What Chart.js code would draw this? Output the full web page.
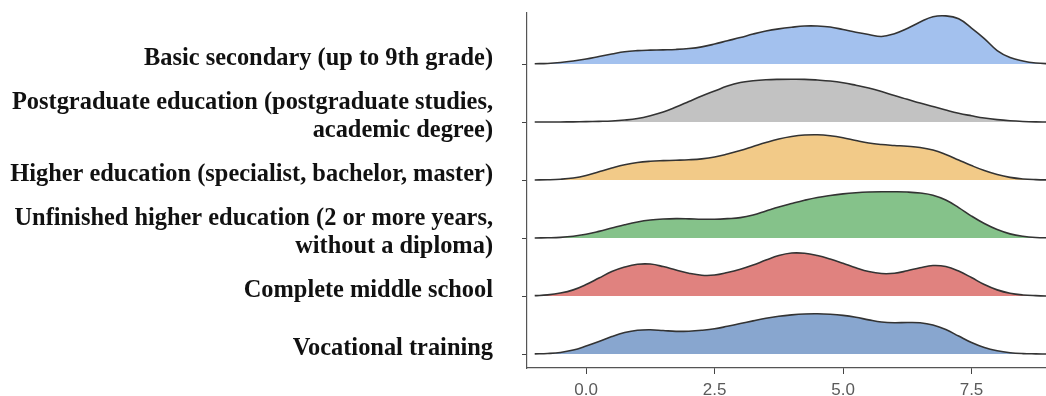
<!DOCTYPE html>
<html>
<head>
<meta charset="utf-8">
<script src="https://cdn.jsdelivr.net/npm/chart.js@4.4.1/dist/chart.umd.min.js"></script>
<style>
  html, body { margin: 0; padding: 0; background: #ffffff; }
  #wrap { width: 1046px; height: 396px; }
</style>
</head>
<body>
<div id="wrap"><canvas id="ridges" width="1046" height="396"></canvas></div>
<script>
// Score grid shared by every density curve
const scoreGrid = [-1, -0.75, -0.5, -0.25, 0, 0.25, 0.5, 0.75, 1, 1.25, 1.5, 1.75, 2, 2.25, 2.5, 2.75,
  3, 3.25, 3.5, 3.75, 4, 4.25, 4.5, 4.75, 5, 5.25, 5.5, 5.75, 6, 6.25, 6.5, 6.75, 7, 7.25, 7.5, 7.75,
  8, 8.25, 8.5, 8.75, 9, 9.25, 9.5];

// Education levels, bottom ridge first ("\n" splits a label over two lines)
const educationLevels = [
  'Vocational training',
  'Complete middle school',
  'Unfinished higher education (2 or more years,\nwithout a diploma)',
  'Higher education (specialist, bachelor, master)',
  'Postgraduate education (postgraduate studies,\nacademic degree)',
  'Basic secondary (up to 9th grade)'
];

// Density of scores per level (58 units = one ridge row)
const densityVocational = [0.2, 0.6, 1.6, 4, 8, 12.5, 17.5, 21.5, 23.8, 24.3, 23.5, 22.7, 22.9, 23.8, 25.3, 27.8,
  30.5, 33.2, 35.8, 37.8, 39.2, 40.1, 40.3, 39.8, 38.7, 36.8, 34.2, 32, 31.3, 31.6, 31.3, 29, 24.5, 18, 11.5, 6.5,
  3.3, 1.4, 0.5, 0.2, 0, 0, 0];
const densityCompleteMiddle = [0.4, 1.2, 3, 6.2, 11.5, 18, 24.5, 29, 31.8, 32, 29.5, 26, 22.8, 20.8, 21, 23.5,
  26.8, 31, 36, 40.5, 43, 42.8, 40.5, 37, 32.8, 28.3, 24.5, 22.5, 22.8, 25.3, 28.3, 30.5, 29.5, 25, 18.5, 11.5,
  6.2, 2.8, 1.1, 0.4, 0.1, 0, 0];
const densityUnfinishedHigher = [0.1, 0.3, 0.7, 1.8, 3.8, 6.7, 10, 13.3, 16.1, 18, 19, 19.4, 19.2, 18.8, 18.8, 19.4,
  20.4, 23, 27, 31, 34.5, 37.8, 40.6, 42.6, 44.2, 45.3, 46, 46.3, 46.3, 46, 45, 42.8, 38, 30.5, 22, 14.5,
  8.5, 4.2, 1.8, 0.6, 0.2, 0, 0];
const densityHigher = [0.1, 0.3, 0.8, 2, 4.5, 8.3, 12, 15.3, 17.6, 18.8, 19.4, 19.8, 20.3, 21.2, 23, 26,
  29.5, 33.5, 37.5, 41, 43.5, 45, 45.3, 44.3, 42.3, 39.5, 37, 35.5, 34.6, 33.8, 32.6, 30, 25.5, 20, 14.5, 9.5,
  5.5, 2.7, 1.1, 0.4, 0.1, 0, 0];
const densityPostgraduate = [0, 0, 0.1, 0.2, 0.4, 0.7, 1.1, 2, 3.5, 6.3, 10, 15, 20.5, 26, 31, 36,
  39.5, 41.3, 42.3, 42.7, 42.8, 42.7, 42, 41, 39.3, 36.8, 34, 30.5, 26.5, 22.8, 19, 15.5, 12, 8.8, 6.3, 4,
  2.4, 1.3, 0.6, 0.2, 0, 0, 0];
const densityBasicSecondary = [0.3, 0.6, 1.5, 3, 5, 7.5, 10, 12.3, 13.4, 13.9, 14.2, 14.6, 15.5, 17.2, 20, 23.3,
  26.5, 30, 33, 35.2, 36.8, 38, 38, 37, 34.5, 31.8, 29.5, 27.5, 30.3, 35.5, 42, 47.3, 48.2, 45.2, 36, 25.5,
  13.5, 6.5, 3, 1, 0.3, 0.1, 0];

// Axis ticks along the score axis
const scoreTickValues = [0, 2.5, 5, 7.5];
const scoreTickLabels = ['0.0', '2.5', '5.0', '7.5'];

const ROW_UNITS = 58;

const ridgeSeries = [
  { values: densityVocational,       color: '#88a6cf' },
  { values: densityCompleteMiddle,   color: '#e0827f' },
  { values: densityUnfinishedHigher, color: '#85c28a' },
  { values: densityHigher,           color: '#f2ca88' },
  { values: densityPostgraduate,     color: '#c2c2c2' },
  { values: densityBasicSecondary,   color: '#a3c1ee' }
];

const datasets = ridgeSeries.map((s, row) => ({
  label: educationLevels[row],
  data: scoreGrid.map((x, i) => ({ x: x, y: row + s.values[i] / ROW_UNITS })),
  fill: { value: row },
  backgroundColor: s.color,
  borderColor: '#333333',
  borderWidth: 1.6,
  pointRadius: 0,
  tension: 0.4,
  order: row
}));

// Scales keep a fixed footprint; no extra room is reserved for label overhang
function clearPadding(scale) {
  scale.paddingTop = 0;
  scale.paddingBottom = 0;
  scale.paddingLeft = 0;
  scale.paddingRight = 0;
}

new Chart(document.getElementById('ridges'), {
  type: 'line',
  data: { datasets: datasets },
  options: {
    responsive: false,
    animation: false,
    layout: { padding: { top: 13, right: 0, bottom: 0, left: 0 } },
    plugins: {
      legend: { display: false },
      tooltip: { enabled: false },
      title: { display: false }
    },
    scales: {
      x: {
        type: 'linear',
        min: -1.15,
        max: 8.95,
        afterBuildTicks: (scale) => { scale.ticks = scoreTickValues.map(v => ({ value: v })); },
        afterFit: (scale) => { scale.height = 28; clearPadding(scale); },
        ticks: {
          callback: (v, i) => scoreTickLabels[i],
          font: { family: 'Liberation Sans', size: 17 },
          color: '#5a5a5a',
          padding: 6,
          maxRotation: 0,
          autoSkip: false
        },
        grid: { drawOnChartArea: false, drawTicks: true, tickLength: 6, color: '#444444' },
        border: { display: true, color: '#555555', width: 1.2 }
      },
      y: {
        type: 'linear',
        min: -0.24,
        max: 5.88,
        afterBuildTicks: (scale) => { scale.ticks = educationLevels.map((_, i) => ({ value: i })); },
        afterFit: (scale) => { scale.width = 527; clearPadding(scale); },
        ticks: {
          callback: (v) => educationLevels[v].split('\n'),
          font: { family: 'Liberation Serif', size: 24.4, weight: 'bold', lineHeight: 1.15 },
          color: '#111111',
          padding: 29,
          labelOffset: -5,
          autoSkip: false
        },
        grid: { drawOnChartArea: false, drawTicks: true, tickLength: 5, color: '#444444' },
        border: { display: true, color: '#555555', width: 1.2 }
      }
    }
  }
});
</script>
</body>
</html>
